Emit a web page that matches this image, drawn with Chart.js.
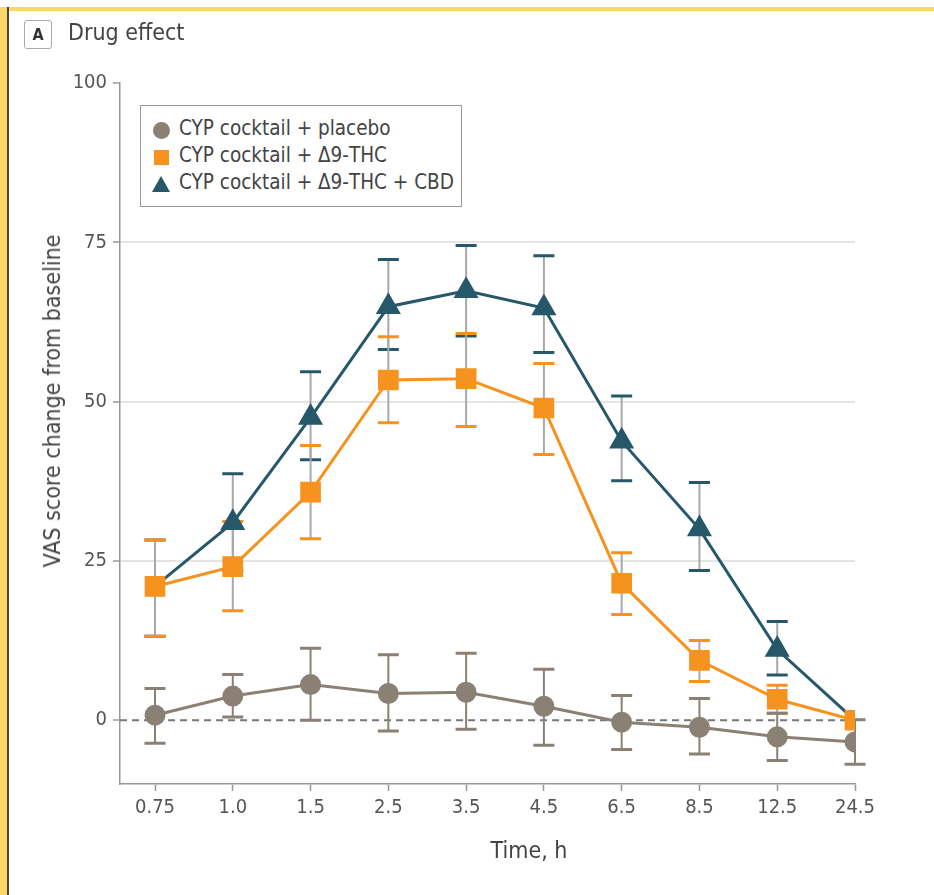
<!DOCTYPE html>
<html lang="en">

<head>
    <meta charset="UTF-8">
    <title>Drug effect</title>
    <script src="https://cdn.jsdelivr.net/npm/chart.js"></script>
    <style>
        body {
            margin: 0;
            background: #FFFFFF;
            font-family: 'DejaVu Sans Condensed', 'Liberation Sans Narrow', 'DejaVu Sans', sans-serif;
        }

        .page {
            position: relative;
            width: 934px;
            height: 895px;
            overflow: hidden;
        }

        .frame-top {
            position: absolute;
            left: 0;
            top: 7px;
            width: 934px;
            height: 4px;
            background: #FCD667;
        }

        .frame-left {
            position: absolute;
            left: 0;
            top: 7px;
            width: 7px;
            height: 900px;
            background: #FCD667;
            border-right: 2px solid #444;
        }

        canvas {
            position: absolute;
            left: 0;
            top: 0;
        }

        .panel {
            position: absolute;
            left: 24px;
            top: 20px;
            width: 26px;
            height: 27px;
            border: 1px solid #AAA;
            border-radius: 3px;
            font-weight: bold;
            font-size: 16px;
            line-height: 27px;
            text-align: center;
            color: #333;
        }

        .panel-title {
            position: absolute;
            left: 68px;
            top: 19px;
            font-size: 23px;
            color: #444;
        }

        .legend {
            position: absolute;
            left: 140px;
            top: 105px;
            width: 320px;
            height: 100px;
            border: 1.5px solid #999;
            background: #FFF;
        }

        .legend div {
            position: absolute;
            left: 38px;
            font-size: 20.5px;
            color: #444;
            white-space: nowrap;
        }

        .mk {
            position: absolute;
        }

        .ytitle {
            position: absolute;
            left: 52px;
            top: 401px;
            transform: translate(-50%, -50%) rotate(-90deg);
            font-size: 23px;
            color: #444;
            white-space: nowrap;
        }

        .xtitle {
            position: absolute;
            left: 529px;
            top: 850px;
            transform: translate(-50%, -50%);
            font-size: 23px;
            color: #444;
            white-space: nowrap;
        }
    </style>
</head>

<body>
    <div class="page">
        <canvas id="drugChart" width="934" height="895"></canvas>
        <div class="frame-top"></div>
        <div class="frame-left"></div>
        <div class="panel">A</div>
        <div class="panel-title">Drug effect</div>
        <div class="legend">
            <span class="mk" style="left:12px;top:16px;width:17px;height:17px;border-radius:50%;background:#8A8174"></span>
            <div style="top:10px">CYP cocktail + placebo</div>
            <span class="mk" style="left:13px;top:44px;width:15px;height:15px;background:#F6921E"></span>
            <div style="top:37px">CYP cocktail + Δ9-THC</div>
            <span class="mk" style="left:11px;top:70px;width:0;height:0;border-left:9px solid transparent;border-right:9px solid transparent;border-bottom:16px solid #26586A"></span>
            <div style="top:64px">CYP cocktail + Δ9-THC + CBD</div>
        </div>
        <div class="ytitle">VAS score change from baseline</div>
        <div class="xtitle">Time, h</div>
    </div>

    <script>
        const times = ['0.75', '1.0', '1.5', '2.5', '3.5', '4.5', '6.5', '8.5', '12.5', '24.5'];
        const yTicks = [0, 25, 50, 75, 100];

        const placebo = [0.8, 3.8, 5.6, 4.2, 4.4, 2.2, -0.3, -1.1, -2.6, -3.4];
        const placeboHi = [5.0, 7.2, 11.3, 10.3, 10.5, 8.0, 3.9, 3.4, 1.1, 0.1];
        const placeboLo = [-3.6, 0.5, 0.0, -1.7, -1.4, -3.9, -4.6, -5.3, -6.3, -6.9];

        const thc = [21.0, 24.1, 35.8, 53.4, 53.6, 49.0, 21.5, 9.4, 3.3, 0];
        const thcHi = [28.3, 31.2, 43.1, 60.2, 60.7, 56.0, 26.3, 12.5, 5.5, 0];
        const thcLo = [13.2, 17.2, 28.5, 46.7, 46.1, 41.7, 16.6, 6.1, 1.1, 0];

        const thcCbd = [21.0, 31.0, 47.5, 64.9, 67.4, 64.7, 43.8, 30.0, 11.1, 0];
        const thcCbdHi = [28.3, 38.7, 54.7, 72.3, 74.5, 72.9, 50.9, 37.3, 15.5, 0];
        const thcCbdLo = [13.2, 23.5, 40.9, 58.2, 60.3, 57.7, 37.6, 23.5, 7.1, 0];

        const toPoints = arr => arr.map((v, i) => ({ x: i, y: v }));

        // whiskers + dashed zero line, drawn under the lines
        const errorBars = {
            id: 'errorBars',
            beforeDatasetsDraw(chart) {
                const { ctx, chartArea, scales: { x, y } } = chart;
                ctx.save();
                ctx.setLineDash([7, 5]);
                ctx.strokeStyle = '#777';
                ctx.lineWidth = 2;
                ctx.beginPath();
                ctx.moveTo(chartArea.left, y.getPixelForValue(0));
                ctx.lineTo(chartArea.right, y.getPixelForValue(0));
                ctx.stroke();
                ctx.setLineDash([]);

                for (let d = chart.data.datasets.length - 1; d >= 0; d--) {
                    const ds = chart.data.datasets[d];
                    ds.data.forEach((p, i) => {
                        const px = x.getPixelForValue(p.x);
                        const top = y.getPixelForValue(ds.errHi[i]);
                        const bot = y.getPixelForValue(ds.errLo[i]);
                        if (Math.abs(bot - top) < 1) return;
                        ctx.strokeStyle = ds.stemColor;
                        ctx.lineWidth = 2;
                        ctx.beginPath();
                        ctx.moveTo(px, top);
                        ctx.lineTo(px, bot);
                        ctx.stroke();
                        ctx.strokeStyle = ds.borderColor;
                        ctx.lineWidth = 3;
                        ctx.beginPath();
                        ctx.moveTo(px - 10.5, top);
                        ctx.lineTo(px + 10.5, top);
                        ctx.moveTo(px - 10.5, bot);
                        ctx.lineTo(px + 10.5, bot);
                        ctx.stroke();
                    });
                }
                ctx.restore();
            }
        };

        const tickFont = { family: "'DejaVu Sans Condensed', 'DejaVu Sans'", size: 20 };

        new Chart(document.getElementById('drugChart'), {
            type: 'line',
            data: {
                datasets: [{
                    label: 'CYP cocktail + placebo',
                    data: toPoints(placebo),
                    errHi: placeboHi,
                    errLo: placeboLo,
                    stemColor: '#8A8174',
                    borderColor: '#8A8174',
                    backgroundColor: '#8A8174',
                    borderWidth: 3,
                    pointStyle: 'circle',
                    pointRadius: 9
                }, {
                    label: 'CYP cocktail + Δ9-THC',
                    data: toPoints(thc),
                    errHi: thcHi,
                    errLo: thcLo,
                    stemColor: '#A8A8A8',
                    borderColor: '#F6921E',
                    backgroundColor: '#F6921E',
                    borderWidth: 3,
                    pointStyle: 'rect',
                    pointRadius: 12.5
                }, {
                    label: 'CYP cocktail + Δ9-THC + CBD',
                    data: toPoints(thcCbd),
                    errHi: thcCbdHi,
                    errLo: thcCbdLo,
                    stemColor: '#A8A8A8',
                    borderColor: '#26586A',
                    backgroundColor: '#26586A',
                    borderWidth: 3,
                    pointStyle: 'triangle',
                    // first and last triangles sit under the orange squares
                    pointRadius: c => (c.dataIndex === 0 || c.dataIndex === times.length - 1) ? 7.5 : 11.5
                }]
            },
            options: {
                responsive: false,
                animation: false,
                layout: { padding: { left: 60, top: 83, right: 79, bottom: 51 } },
                plugins: {
                    legend: { display: false },
                    tooltip: { enabled: false }
                },
                scales: {
                    x: {
                        type: 'linear',
                        min: -0.45,
                        max: times.length - 1,
                        afterBuildTicks: s => { s.ticks = times.map((t, i) => ({ value: i })); },
                        afterFit: s => { s.height = 60; },
                        ticks: {
                            callback: v => times[v],
                            color: '#555',
                            font: tickFont,
                            padding: 5,
                            maxRotation: 0
                        },
                        grid: { drawOnChartArea: false, tickLength: 7, tickColor: '#999', tickWidth: 1.5 },
                        border: { color: '#999', width: 1.5 }
                    },
                    y: {
                        min: -10,
                        max: 100,
                        afterBuildTicks: s => { s.ticks = yTicks.map(v => ({ value: v })); },
                        afterFit: s => { s.width = 60; },
                        ticks: {
                            color: '#555',
                            font: tickFont,
                            padding: 6
                        },
                        grid: {
                            color: c => (c.tick && [25, 50, 75].includes(c.tick.value)) ? '#E4E4E4' : 'transparent',
                            lineWidth: 2,
                            tickLength: 7,
                            tickColor: '#999',
                            tickWidth: 1.5
                        },
                        border: { color: '#999', width: 1.5 }
                    }
                }
            },
            plugins: [errorBars]
        });
    </script>
</body>

</html>
